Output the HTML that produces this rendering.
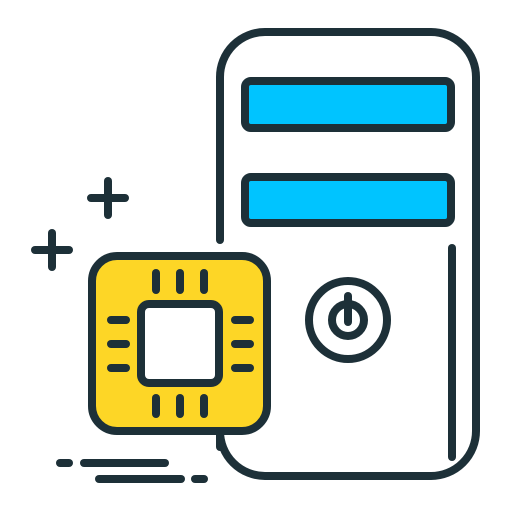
<!DOCTYPE html>
<html><head><style>html,body{margin:0;padding:0;background:#fff}svg{display:block}</style></head>
<body>
<svg width="512" height="512" viewBox="0 0 512 512" xmlns="http://www.w3.org/2000/svg">
<g fill="none" stroke="#1d3038" stroke-width="8" stroke-linecap="round" stroke-linejoin="round">
<path d="M220 240 V77 A45 45 0 0 1 265 32 H431 A45 45 0 0 1 476 77 V431 A45 45 0 0 1 431 476 H265 A45 45 0 0 1 220 431 V447"/>
<rect x="245" y="81" width="206" height="47" rx="6" fill="#00c4ff"/>
<rect x="245" y="177" width="206" height="46" rx="6" fill="#00c4ff"/>
<line x1="452" y1="248" x2="452" y2="457"/>
<circle cx="348" cy="320" r="39"/>
<path d="M334 306 A16 16 0 1 0 362 306" stroke-width="0"/>
<circle cx="348" cy="320" r="16"/>
<line x1="348" y1="296" x2="348" y2="322"/>
<rect x="92" y="256" width="175" height="175" rx="25" fill="#fdd626"/>
<rect x="141" y="304" width="78" height="79" rx="8" fill="#fff"/>
<line x1="156" y1="273" x2="156" y2="290"/><line x1="180" y1="273" x2="180" y2="290"/><line x1="204" y1="273" x2="204" y2="290"/>
<line x1="156" y1="398" x2="156" y2="414"/><line x1="180" y1="398" x2="180" y2="414"/><line x1="204" y1="398" x2="204" y2="414"/>
<line x1="111" y1="320" x2="126" y2="320"/><line x1="111" y1="344" x2="126" y2="344"/><line x1="111" y1="368" x2="126" y2="368"/>
<line x1="235" y1="320" x2="250" y2="320"/><line x1="235" y1="344" x2="250" y2="344"/><line x1="235" y1="368" x2="250" y2="368"/>
<line x1="91" y1="198" x2="125" y2="198"/><line x1="108" y1="181" x2="108" y2="215"/>
<line x1="35" y1="250" x2="69" y2="250"/><line x1="52" y1="233" x2="52" y2="267"/>
<line x1="60" y1="463" x2="69" y2="463"/><line x1="84" y1="463" x2="165" y2="463"/>
<line x1="99" y1="479" x2="181" y2="479"/><line x1="195" y1="479" x2="204" y2="479"/>
</g>
</svg>
</body></html>
